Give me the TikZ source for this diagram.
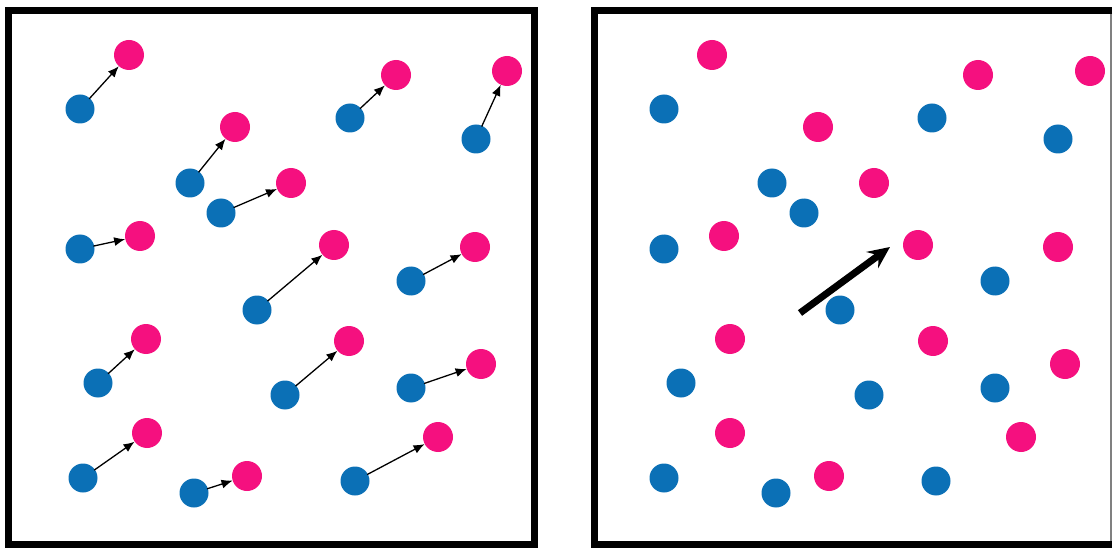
\documentclass[tikz,border=0pt]{standalone}
\usetikzlibrary{arrows.meta}
\definecolor{dotblue}{HTML}{0B70B6}
\definecolor{dotpink}{HTML}{F5107F}
\begin{document}
\begin{tikzpicture}[x=1pt,y=-1pt,
  bdot/.style={circle,fill=dotblue,inner sep=0pt,minimum size=29pt},
  pdot/.style={circle,fill=dotpink,inner sep=0pt,minimum size=30pt},
  arr/.style={-{Latex[length=11pt,width=9pt]},line width=1.3pt,shorten <=-1pt},
  bigarr/.style={-{Stealth[length=22pt,width=20pt,inset=8pt]},line width=7pt},
  frame/.style={line width=7pt}]
\useasboundingbox (0,0) rectangle (1114,548);
\draw[frame] (8,10.5) rectangle (534.5,544.5);
\draw[frame] (1112,10.5) -- (594.5,10.5) -- (594.5,544.5) -- (1112,544.5);
\draw[gray,line width=1.2pt] (1111,14) -- (1111,541);
% left panel
\foreach \n/\bx/\by/\px/\py in {
 1/80/109/129/55, 2/190/183/235/127, 3/221/213/291/183, 4/80/249/140/236,
 5/257/310/334/245, 6/350/118/396/75, 7/476/139/507/71, 8/411/281/475/247,
 9/98/383/146/339, 10/285/395/349/341, 11/411/388/481/364, 12/83/478/147/433,
 13/194/493/247/476, 14/355/481/438/437}{
  \node[bdot] (lb\n) at (\bx,\by) {};
  \node[pdot] (lp\n) at (\px,\py) {};
  \draw[arr] (lb\n) -- (lp\n);
}
% right panel
\foreach \n/\x/\y in {1/664/109, 2/932/118, 3/1058/139, 4/772/183, 5/804/213,
 6/664/249, 7/995/281, 8/840/310, 9/681/383, 10/869/395, 11/995/388,
 12/664/478, 13/776/493, 14/936/481}{
  \node[bdot] (rb\n) at (\x,\y) {};
}
\foreach \n/\x/\y in {1/712/55, 2/978/75, 3/1090/71, 4/818/127, 5/874/183,
 6/724/236, 7/918/245, 8/1058/247, 9/730/339, 10/933/341, 11/1065/364,
 12/730/433, 13/1021/437, 14/829/476}{
  \node[pdot] (rp\n) at (\x,\y) {};
}
\coordinate (bs) at (800,313);
\coordinate (be) at (890,247);
\draw[bigarr] (bs) -- (be);
\end{tikzpicture}
\end{document}
